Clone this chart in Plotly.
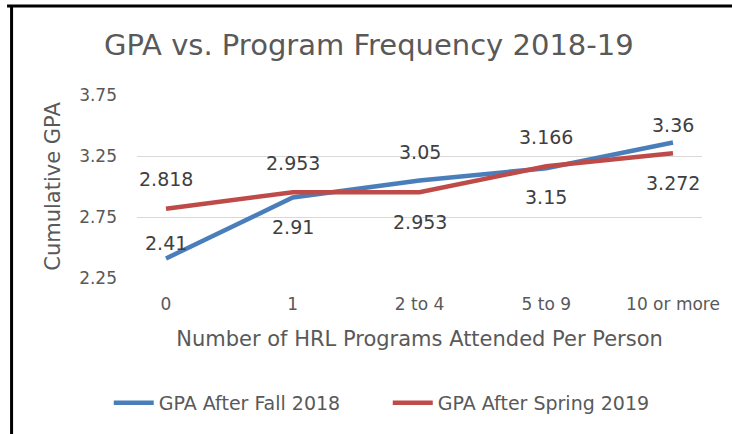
import plotly.graph_objects as go

categories = ["0", "1", "2 to 4", "5 to 9", "10 or more"]
fall_2018 = [2.41, 2.91, 3.05, 3.15, 3.36]
spring_2019 = [2.818, 2.953, 2.953, 3.166, 3.272]
y_ticks = [2.25, 2.75, 3.25, 3.75]

# label offsets in px (positive = above the point)
fall_label_shift = [15, -30, 28, -29, 18]
spring_label_shift = [30, 29, -30, 29, -30]

BLUE = "#4A7EBB"
RED = "#BE4B48"
FONT = "DejaVu Sans"

fig = go.Figure()
fig.add_trace(go.Scatter(x=categories, y=fall_2018, mode="lines", name="GPA After Fall 2018",
                         line=dict(color=BLUE, width=4.5)))
fig.add_trace(go.Scatter(x=categories, y=spring_2019, mode="lines", name="GPA After Spring 2019",
                         line=dict(color=RED, width=4.5)))

annotations = []
for series, shifts in ((fall_2018, fall_label_shift), (spring_2019, spring_label_shift)):
    for c, v, s in zip(categories, series, shifts):
        annotations.append(dict(x=c, y=v, xref="x", yref="y", text=f"{v:g}", showarrow=False,
                                yshift=s, font=dict(family=FONT, size=19, color="#404040")))

annotations.append(dict(text="GPA vs. Program Frequency 2018-19", xref="paper", yref="paper",
                        x=0.41, y=1.273, showarrow=False, xanchor="center", yanchor="middle",
                        font=dict(family=FONT, size=29, color="#595959")))

fig.update_layout(
    width=732, height=434, autosize=False,
    margin=dict(l=137, r=19, t=95, b=156),
    paper_bgcolor="white", plot_bgcolor="white",
    showlegend=True,
    hovermode=False,
    legend=dict(orientation="h", x=-0.05, y=-0.683, xanchor="left", yanchor="middle",
                font=dict(family=FONT, size=19, color="#595959"), itemwidth=40,
                entrywidth=224),
    annotations=annotations,
    shapes=[
        dict(type="line", xref="paper", yref="paper", x0=-0.23, x1=1.1, y0=1.486, y1=1.486,
             line=dict(color="black", width=3)),
        dict(type="line", xref="paper", yref="paper", x0=-0.222, x1=-0.222, y0=1.49, y1=-0.9,
             line=dict(color="black", width=3)),
    ],
)
fig.update_xaxes(showgrid=False, showline=False, zeroline=False, ticks="", ticklabelstandoff=14,
                 tickfont=dict(family=FONT, size=17, color="#595959"),
                 title=dict(text="Number of HRL Programs Attended Per Person",
                            font=dict(family=FONT, size=21, color="#595959"), standoff=18))
fig.update_yaxes(range=[2.25, 3.75], tickvals=y_ticks, ticktext=[f"{t:.2f}" for t in y_ticks],
                 showgrid=True, gridcolor="#D9D9D9", gridwidth=1.3, zeroline=False, showline=False,
                 ticks="", ticklabelstandoff=19,
                 tickfont=dict(family=FONT, size=17, color="#595959"),
                 title=dict(text="Cumulative GPA", font=dict(family=FONT, size=21, color="#595959"),
                            standoff=12))

fig.write_html("out.html", config={"displayModeBar": False},
               post_script="document.body.style.margin='0';")
